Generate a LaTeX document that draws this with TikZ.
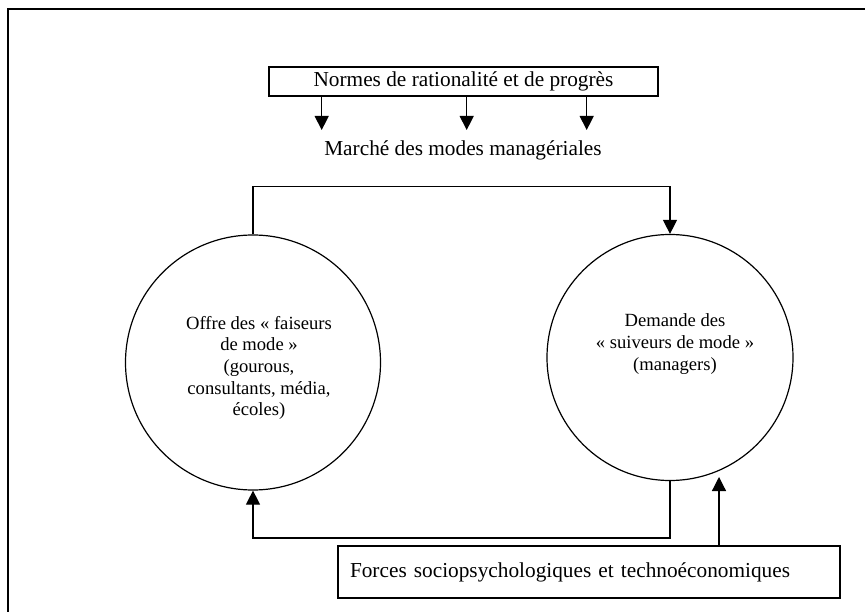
\documentclass[tikz,border=0pt]{standalone}
\usepackage{fontspec}
\setmainfont{Liberation Serif}
\usetikzlibrary{arrows.meta}
\begin{document}
\begin{tikzpicture}[x=1pt,y=-1pt,
  box/.style={draw, line width=1.5pt, inner sep=0pt},
  ring/.style={draw, circle, line width=1.2pt, inner sep=0pt},
  conn/.style={line width=1.2pt, -{Triangle[width=14pt,length=14pt]}},
  big/.style={font=\fontsize{21.3}{25}\selectfont},
  small/.style={font=\fontsize{18.6}{21.7}\selectfont, align=center}]
\useasboundingbox (0,0) rectangle (865,612);
\clip (0,0) rectangle (865,612);
\draw[line width=1.6pt] (8,9) rectangle (890,640);
\node[box, big, minimum width=389pt, minimum height=29pt] (N) at (463.5,81.5) {Normes de rationalité et de progrès};
\node[big] (M) at (463,150) {Marché des modes managériales};
\coordinate (a1) at (321.7,130);
\coordinate (a2) at (466.7,130);
\coordinate (a3) at (586.7,130);
\foreach \c in {a1,a2,a3} \draw[conn] (N.south -| \c) -- (\c);
\node[ring, minimum size=255pt] (L) at (253,362.5) {};
\node[ring, minimum size=246pt] (R) at (670,357.5) {};
\node[small] (Lt) at (259,368) {Offre des « faiseurs\\de mode »\\(gourous,\\consultants, média,\\écoles)};
\node[small] (Rt) at (675,344) {Demande des\\« suiveurs de mode »\\(managers)};
\coordinate (t1) at (253,186.5);
\draw[conn] (L.north) -- (t1) -| (R.north);
\coordinate (b1) at (670,538);
\draw[conn] (R.south) -- (b1) -| (L.south);
\node[box, big, text width=478pt, align=left, inner xsep=12pt, minimum height=52pt] (F) at (589,572) {Forces sociopsychologiques et technoéconomiques};
\coordinate (fe) at (719,477);
\draw[conn] (F.north -| fe) -- (fe);
\end{tikzpicture}
\end{document}
